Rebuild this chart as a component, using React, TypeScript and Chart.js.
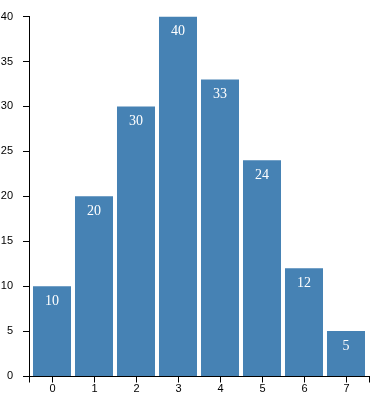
import React, { useEffect, useRef } from "react";
import { Chart, registerables } from "chart.js";

Chart.register(...registerables);

const categories = ["0", "1", "2", "3", "4", "5", "6", "7"];
const values = [10, 20, 30, 40, 33, 24, 12, 5];
const yTicks = [0, 5, 10, 15, 20, 25, 30, 35, 40];

const BAR_COLOR = "#4682b4";

const axesPlugin = {
  id: "d3axes",
  afterDraw(chart: any) {
    const ctx = chart.ctx;
    const xs = chart.scales.x;
    const ys = chart.scales.y;
    const axisX = ys.right - 1.5;
    const axisY = Math.floor(ys.getPixelForValue(0)) + 0.5;
    const rightEnd = xs.right + 2.5;
    ctx.save();
    ctx.strokeStyle = "#000";
    ctx.lineWidth = 1;
    ctx.beginPath();
    ctx.moveTo(axisX, Math.floor(ys.getPixelForValue(40)));
    ctx.lineTo(axisX, axisY);
    yTicks.forEach((v) => {
      const py = Math.floor(ys.getPixelForValue(v)) + 0.5;
      ctx.moveTo(axisX - 6.5, py);
      ctx.lineTo(axisX + 0.5, py);
    });
    ctx.moveTo(axisX - 0.5, axisY);
    ctx.lineTo(rightEnd + 0.5, axisY);
    ctx.moveTo(axisX, axisY);
    ctx.lineTo(axisX, axisY + 6);
    ctx.moveTo(rightEnd, axisY);
    ctx.lineTo(rightEnd, axisY + 6);
    categories.forEach((_, i) => {
      const px = Math.floor(xs.getPixelForValue(i)) + 0.5;
      ctx.moveTo(px, axisY);
      ctx.lineTo(px, axisY + 6);
    });
    ctx.stroke();
    // x tick labels
    ctx.fillStyle = "#000";
    ctx.font = "11px 'Liberation Sans'";
    ctx.textAlign = "center";
    ctx.textBaseline = "middle";
    categories.forEach((c, i) => {
      const px = Math.floor(xs.getPixelForValue(i)) + 0.5;
      ctx.fillText(c, px, axisY + 12);
    });
    ctx.restore();
  },
};

const labelPlugin = {
  id: "barLabels",
  afterDatasetsDraw(chart: any) {
    const ctx = chart.ctx;
    const meta = chart.getDatasetMeta(0);
    ctx.save();
    ctx.fillStyle = "#fff";
    ctx.font = "14px 'Liberation Serif'";
    ctx.textAlign = "center";
    ctx.textBaseline = "middle";
    meta.data.forEach((bar: any, i: number) => {
      ctx.fillText(String(values[i]), bar.x, bar.y + 15);
    });
    ctx.restore();
  },
};

export default function App() {
  const ref = useRef<HTMLCanvasElement>(null);
  useEffect(() => {
    if (!ref.current) return;
    const chart = new Chart(ref.current, {
      type: "bar",
      data: {
        labels: categories,
        datasets: [
          {
            data: values,
            backgroundColor: BAR_COLOR,
            categoryPercentage: 1,
            barPercentage: 0.905,
            borderWidth: 0,
          },
        ],
      },
      options: {
        responsive: false,
        animation: false,
        layout: { padding: { top: 16, right: 14, left: 0, bottom: 0 } },
        plugins: {
          legend: { display: false },
          tooltip: { enabled: false },
        },
        scales: {
          x: {
            grid: { display: false },
            border: { display: false },
            ticks: { display: false },
            afterFit: (s: any) => {
              s.height = 23;
            },
          },
          y: {
            min: 0,
            max: 40,
            grid: { display: false },
            border: { display: false },
            ticks: {
              stepSize: 5,
              color: "#000",
              font: { family: "'Liberation Sans'", size: 11 },
              padding: 10,
            },
            afterFit: (s: any) => {
              s.width = 31;
            },
          },
        },
      },
      plugins: [axesPlugin, labelPlugin],
    });
    return () => chart.destroy();
  }, []);
  return (
    <div style={{ position: "absolute", left: 0, top: 0, width: 381, height: 399 }}>
      <canvas ref={ref} width={381} height={399} style={{ display: "block" }} />
    </div>
  );
}
